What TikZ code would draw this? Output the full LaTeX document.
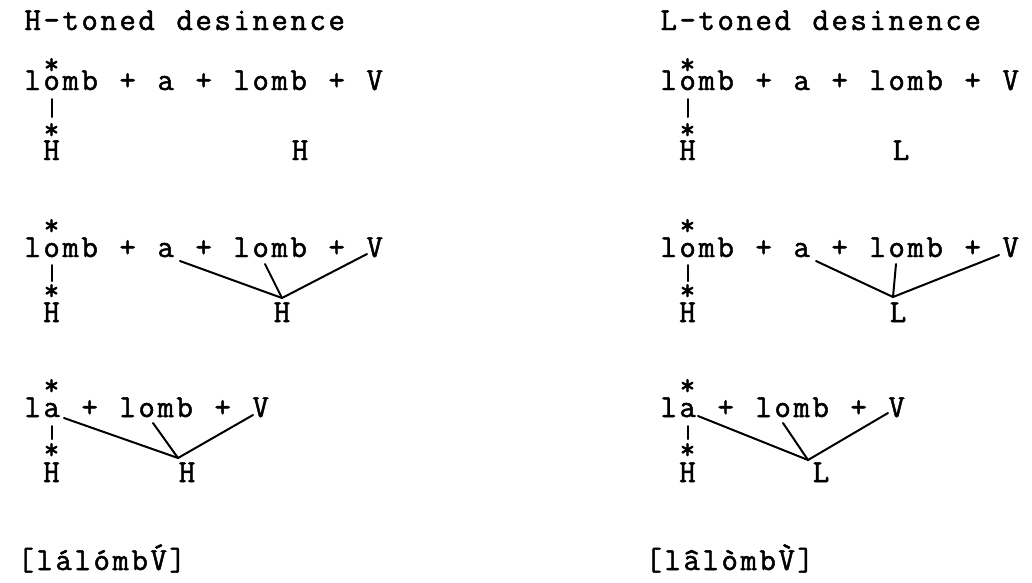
\documentclass[tikz,border=0pt]{standalone}
\usepackage{fontspec}
\setmonofont{Latin Modern Mono}[FakeBold=1.5]
\newcommand\tw[1]{\twA#1\relax}
\def\twA#1{\ifx\relax#1\else\makebox[19pt][c]{#1}\expandafter\twA\fi}
\newcommand\acc[2]{\accent"#1 #2}
\tikzset{
  txt/.style={inner sep=0pt, anchor=base west, font=\ttfamily\fontsize{32}{32}\selectfont},
  starmark/.style={inner sep=0pt, anchor=north, font=\ttfamily\fontsize{30}{30}\selectfont},
  tone/.style={inner sep=0pt, anchor=base, font=\ttfamily\fontsize{32}{32}\selectfont},
  link/.style={line width=2pt, line cap=round}
}
\begin{document}
\begin{tikzpicture}[x=1pt,y=-1pt]
\useasboundingbox (0,0) rectangle (1032,582);
% titles
\node[txt] (tl) at (23,30) {\tw{H-toned~desinence}};
\node[txt] (tr) at (659,30) {\tw{L-toned~desinence}};
% ---------- row 1 left
\node[txt] (r1l) at (23,90) {\tw{lomb~+~a~+~lomb~+~V}};
\node[starmark] (s1lu) at (51.5,58) {*};
\node[starmark] (s1ld) at (51.5,123) {*};
\node[tone] (h1l) at (51.5,160) {H};
\node[tone] (t1l) at (300,160) {H};
\coordinate (o1l) at (51.5,99);
\draw[link] (o1l) -- ([yshift=6pt]s1ld.north);
% ---------- row 1 right
\node[txt] (r1r) at (659,90) {\tw{lomb~+~a~+~lomb~+~V}};
\node[starmark] (s1ru) at (687.5,58) {*};
\node[starmark] (s1rd) at (687.5,123) {*};
\node[tone] (h1r) at (687.5,160) {H};
\node[tone] (t1r) at (901,160) {L};
\coordinate (o1r) at (687.5,99);
\draw[link] (o1r) -- ([yshift=6pt]s1rd.north);
% ---------- row 2 left
\node[txt] (r2l) at (23,257) {\tw{lomb~+~a~+~lomb~+~V}};
\node[starmark] (s2lu) at (51.5,219) {*};
\node[starmark] (s2ld) at (51.5,284) {*};
\node[tone] (h2l) at (51.5,322) {H};
\node[tone] (t2l) at (282,322) {H};
\coordinate (o2l) at (51.5,265);
\draw[link] (o2l) -- ([yshift=3pt]s2ld.north);
\coordinate (c2l) at (282,298);
\coordinate (a2l) at (180,261);
\coordinate (m2l) at (265,264);
\coordinate (v2l) at (367,254);
\draw[link] (a2l) -- (c2l) -- (v2l);
\draw[link] (m2l) -- (c2l);
% ---------- row 2 right
\node[txt] (r2r) at (659,257) {\tw{lomb~+~a~+~lomb~+~V}};
\node[starmark] (s2ru) at (687.5,219) {*};
\node[starmark] (s2rd) at (687.5,284) {*};
\node[tone] (h2r) at (687.5,322) {H};
\node[tone] (t2r) at (898,322) {L};
\coordinate (o2r) at (687.5,265);
\draw[link] (o2r) -- ([yshift=3pt]s2rd.north);
\coordinate (c2r) at (893,297);
\coordinate (a2r) at (816,261);
\coordinate (m2r) at (896,264);
\coordinate (v2r) at (999,255);
\draw[link] (a2r) -- (c2r) -- (v2r);
\draw[link] (m2r) -- (c2r);
% ---------- row 3 left
\node[txt] (r3l) at (23,417) {\tw{la~+~lomb~+~V}};
\node[starmark] (s3lu) at (51.5,379) {*};
\node[starmark] (s3ld) at (51.5,443) {*};
\node[tone] (h3l) at (51.5,482) {H};
\node[tone] (t3l) at (187,482) {H};
\coordinate (o3l) at (51.5,426);
\draw[link] (o3l) -- ([yshift=4pt]s3ld.north);
\coordinate (c3l) at (178,458);
\coordinate (a3l) at (64,418);
\coordinate (m3l) at (153,423);
\coordinate (v3l) at (253,415);
\draw[link] (a3l) -- (c3l) -- (v3l);
\draw[link] (m3l) -- (c3l);
% ---------- row 3 right
\node[txt] (r3r) at (659,417) {\tw{la~+~lomb~+~V}};
\node[starmark] (s3ru) at (687.5,379) {*};
\node[starmark] (s3rd) at (687.5,443) {*};
\node[tone] (h3r) at (687.5,482) {H};
\node[tone] (t3r) at (821,482) {L};
\coordinate (o3r) at (687.5,426);
\draw[link] (o3r) -- ([yshift=4pt]s3rd.north);
\coordinate (c3r) at (808,460);
\coordinate (a3r) at (698,416);
\coordinate (m3r) at (783,423);
\coordinate (v3r) at (888,413);
\draw[link] (a3r) -- (c3r) -- (v3r);
\draw[link] (m3r) -- (c3r);
% ---------- surface forms
\node[txt] (fl) at (16,570) {\tw{[l{\acc{B4}a}l{\acc{B4}o}mb{\acc{B4}V}]}};
\node[txt] (fr) at (644,570) {\tw{[l{\acc{5E}a}l{\acc{60}o}mb{\acc{60}V}]}};
\end{tikzpicture}
\end{document}
